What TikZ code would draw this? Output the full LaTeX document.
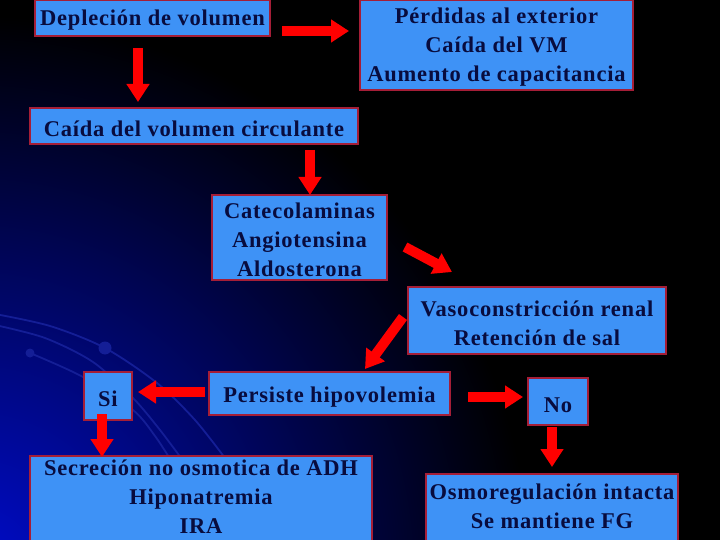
\documentclass[tikz,border=0pt]{standalone}
\usepackage{fontspec}
\setmainfont{Liberation Serif}[LetterSpace=3.5]
\usetikzlibrary{arrows.meta}
\definecolor{boxfill}{RGB}{62,146,246}
\definecolor{boxline}{RGB}{165,30,55}
\definecolor{txt}{RGB}{8,12,62}
\definecolor{arr}{RGB}{255,0,0}
\definecolor{arcc}{RGB}{20,30,150}
\definecolor{glow}{RGB}{0,12,205}
\begin{document}
\begin{tikzpicture}[x=1pt,y=-1pt,
  box/.style={draw=boxline, line width=2pt, fill=boxfill, inner sep=0pt},
  lbl/.style={text=txt, font=\fontsize{22.5}{29}\selectfont\bfseries, align=center, inner sep=0pt, yshift=-2.5pt},
  blk/.style={draw=arr, line width=10pt, -{Triangle[length=18pt,width=22pt]}},
  deco/.style={draw=arcc, line width=1.8pt}]
\useasboundingbox (0,0) rectangle (720,540);
\fill[black] (0,0) rectangle (720,540);
\begin{scope}
  \clip (0,0) rectangle (720,540);
  \shade[inner color=glow, outer color=black] (-30,575) circle (560);
  \draw[deco] plot[smooth] coordinates {(-5,314) (50,326) (105,348) (157,383) (195,420) (228,462)};
  \draw[deco] plot[smooth] coordinates {(-5,325) (45,338) (93,362) (133,398) (160,430) (184,462)};
  \draw[deco] plot[smooth] coordinates {(30,353) (83,377) (133,410) (155,436) (172,462)};
  \fill[arcc] (105,348) circle (6.5);
  \fill[arcc] (30,353) circle (4.5);
\end{scope}

\node[box, minimum width=235, minimum height=36] (dep) at (152.5,18) {};
\node[lbl] (dep-t) at (dep.center) {Depleción de volumen};
\node[box, minimum width=273, minimum height=90] (per) at (496.5,45) {};
\node[lbl] (per-t) at (per.center) {Pérdidas al exterior\\Caída del VM\\Aumento de capacitancia};
\node[box, minimum width=328, minimum height=36] (cai) at (194,126) {};
\node[lbl] (cai-t) at (cai.center) {Caída del volumen circulante};
\node[box, minimum width=175, minimum height=85] (cat) at (299.5,237.5) {};
\node[lbl] (cat-t) at (cat.center) {Catecolaminas\\Angiotensina\\Aldosterona};
\node[box, minimum width=258, minimum height=67] (vas) at (537,320.5) {};
\node[lbl] (vas-t) at (vas.center) {Vasoconstricción renal\\Retención de sal};
\node[box, minimum width=241, minimum height=43] (pers) at (329.5,393.5) {};
\node[lbl, yshift=-1.5pt] (pers-t) at (pers.center) {Persiste hipovolemia};
\node[box, minimum width=48, minimum height=48] (si) at (108,396) {};
\node[lbl] (si-t) at (si.center) {Si};
\node[box, minimum width=60, minimum height=47] (no) at (558,401.5) {};
\node[lbl, yshift=-1.5pt] (no-t) at (no.center) {No};
\node[box, minimum width=342, minimum height=86] (sec) at (201,499) {};
\node[lbl, yshift=4.5pt] (sec-t) at (sec.center) {Secreción no osmotica de ADH\\Hiponatremia\\IRA};
\node[box, minimum width=252, minimum height=67] (osm) at (552,507.5) {};
\node[lbl, yshift=3.5pt] (osm-t) at (osm.center) {Osmoregulación intacta\\Se mantiene FG};

\coordinate (a1s) at (282,31);  \coordinate (a1e) at (349,31);
\coordinate (a2s) at (138,48);  \coordinate (a2e) at (138,102);
\coordinate (a3s) at (310,150); \coordinate (a3e) at (310,195);
\coordinate (a4s) at (405,247); \coordinate (a4e) at (452,272);
\coordinate (a5s) at (403,317); \coordinate (a5e) at (365,369);
\coordinate (a6s) at (205,392); \coordinate (a6e) at (138,392);
\coordinate (a7s) at (102,414); \coordinate (a7e) at (102,457);
\coordinate (a8s) at (468,397); \coordinate (a8e) at (523,397);
\coordinate (a9s) at (552,427); \coordinate (a9e) at (552,467);

\draw[blk] (a1s) -- (a1e);
\draw[blk] (a2s) -- (a2e);
\draw[blk] (a3s) -- (a3e);
\draw[blk] (a4s) -- (a4e);
\draw[blk] (a5s) -- (a5e);
\draw[blk] (a6s) -- (a6e);
\draw[blk] (a7s) -- (a7e);
\draw[blk] (a8s) -- (a8e);
\draw[blk] (a9s) -- (a9e);
\end{tikzpicture}
\end{document}
